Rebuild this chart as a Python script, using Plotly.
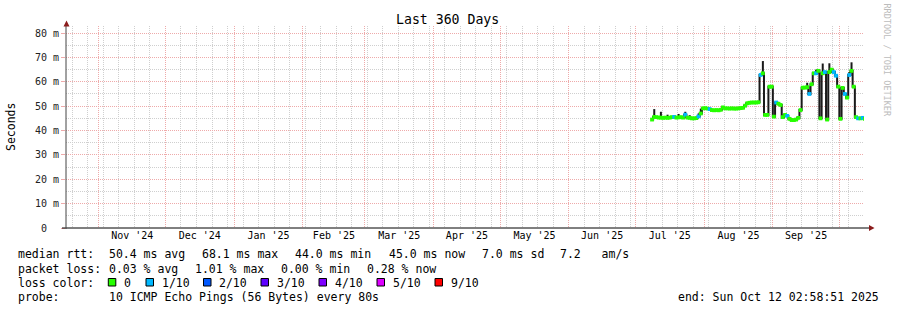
import pandas as pd
import plotly.graph_objects as go

# ---------------- data ----------------
start_date = "2025-07-08"
median_ms = [
    # Jul 8 - Jul 31
    44.5, 45.6, 45.5, 45.3, 45.3, 45.2, 45.3, 45.2, 45.3, 45.5, 45.6, 45.3,
    45.4, 45.5, 45.3, 46.5, 45.3, 45.2, 45.0, 45.0, 45.1, 45.8, 47.0, 49.1,
    # Aug 1 - Aug 31
    49.2, 49.0, 48.8, 48.4, 48.3, 48.4, 48.3, 48.5, 49.5, 49.1, 49.1, 49.0,
    49.1, 49.0, 49.0, 49.1, 49.2, 49.3, 50.2, 51.2, 51.4, 51.5, 51.5, 51.5,
    51.6, 62.8, 63.5, 46.4, 46.4, 58.0, 58.0,
    # Sep 1 - Sep 30
    45.7, 51.5, 51.0, 50.5, 45.5, 46.4, 46.0, 44.8, 44.3, 44.3, 44.5, 45.2,
    48.4, 57.6, 57.6, 57.8, 55.0, 59.0, 63.5, 63.5, 64.5, 45.0, 63.5, 64.0,
    44.5, 64.0, 65.0, 64.0, 62.5, 58.0,
    # Oct 1 - Oct 12
    44.8, 57.5, 55.0, 53.5, 62.8, 64.5, 58.0, 45.5, 45.0, 45.0, 45.2, 44.8,
]
smoke_hi_ms = [
    44.9, 48.8, 46.0, 45.7, 47.7, 45.6, 45.8, 46.5, 45.7, 45.9, 46.2, 45.7,
    46.8, 46.5, 45.7, 47.7, 45.7, 46.3, 45.4, 45.4, 45.5, 47.0, 49.0, 49.5,
    49.6, 49.4, 49.2, 48.8, 48.7, 48.8, 48.7, 48.9, 49.9, 49.5, 49.5, 49.4,
    49.5, 49.4, 49.4, 49.5, 49.6, 49.7, 50.6, 51.6, 51.8, 51.9, 51.9, 51.9,
    52.0, 63.2, 68.5, 46.8, 46.8, 58.5, 58.5,
    46.1, 52.0, 51.4, 51.0, 45.9, 46.8, 46.4, 45.2, 44.7, 44.7, 44.9, 45.6,
    48.8, 58.0, 58.0, 59.6, 55.5, 59.5, 64.0, 65.0, 65.0, 45.4, 67.5, 64.5,
    44.9, 67.6, 66.0, 65.0, 63.0, 58.5,
    45.2, 58.0, 56.0, 54.0, 64.0, 68.0, 58.5, 45.9, 45.4, 45.4, 45.6, 45.2,
]
loss_idx = [
    0, 0, 0, 0, 0, 0, 0, 0, 0, 0, 1, 0, 0, 0, 0, 1, 0, 0, 0, 0, 0, 1, 0, 0,
    0, 0, 1, 0, 0, 0, 0, 0, 0, 0, 0, 0, 0, 0, 0, 0, 0, 0, 0, 0, 0, 0, 0, 0,
    0, 1, 0, 0, 0, 0, 0,
    0, 1, 0, 0, 0, 0, 1, 0, 0, 0, 0, 0, 0, 0, 0, 0, 1, 0, 0, 1, 0, 0, 0, 1,
    0, 0, 0, 1, 1, 0,
    0, 0, 1, 0, 1, 0, 0, 0, 1, 0, 1, 0,
]
loss_colors = ["#26ff00", "#00b8ff", "#0059ff", "#5e00ff", "#7e00ff", "#dd00ff", "#ff0000"]
loss_labels = ["0", "1/10", "2/10", "3/10", "4/10", "5/10", "9/10"]

y_tick_vals = [0, 10, 20, 30, 40, 50, 60, 70, 80]
y_tick_text = ["0  ", "10 m", "20 m", "30 m", "40 m", "50 m", "60 m", "70 m", "80 m"]

range_start = "2024-10-17 02:58:51"
range_end = "2025-10-12 02:58:51"

title_text = "Last 360 Days"
rtt_items = ["median rtt:", "50.4 ms avg", "68.1 ms max", "44.0 ms min", "45.0 ms now", "7.0 ms sd", "7.2   am/s"]
loss_items = ["packet loss:", "0.03 % avg", "1.01 % max", "0.00 % min", "0.28 % now"]
probe_items = ["probe:", "10 ICMP Echo Pings (56 Bytes) every 80s"]
end_text = "end: Sun Oct 12 02:58:51 2025"
watermark = "RRDTOOL / TOBI OETIKER"

dates = pd.date_range(start_date, periods=len(median_ms), freq="D")
centers = dates + pd.Timedelta(hours=12)

# ---------------- layout geometry (pixels) ----------------
W, H = 897, 310
L, R, T, B = 66, 33, 26, 82
PW = W - L - R
PH = H - T - B
FONT = "DejaVu Sans Mono"


def px(x):
    return (x - L) / PW


def py(y):
    return (H - B - y) / PH


def nb(s):
    return s.replace(" ", "\u00a0")


fig = go.Figure()

# smoke: dark steps connecting the daily medians
fig.add_trace(go.Scatter(x=centers, y=median_ms, mode="lines",
                         line=dict(color="#1a1a1a", width=2, shape="hvh"),
                         hoverinfo="skip", showlegend=False))
# smoke spikes up to the daily upper value
sx, sy = [], []
for c, m, h in zip(centers, median_ms, smoke_hi_ms):
    if h - m > 1.0:
        sx += [c, c, None]
        sy += [m, h, None]
fig.add_trace(go.Scatter(x=sx, y=sy, mode="lines",
                         line=dict(color="#1a1a1a", width=2),
                         hoverinfo="skip", showlegend=False))
# median coloured by loss
fig.add_trace(go.Scatter(x=centers, y=median_ms, mode="markers",
                         marker=dict(symbol="square", size=3.8,
                                     color=[loss_colors[i] for i in loss_idx],
                                     line=dict(width=0)),
                         hoverinfo="skip", showlegend=False))

grid_major = "#eeaaaa"
grid_minor = "#cfcfcf"

fig.update_xaxes(
    type="date", range=[range_start, range_end],
    dtick="M1", tick0="2024-11-01", ticklabelmode="period",
    tickformat="%b '%y",
    showgrid=True, gridcolor=grid_major, griddash="1px,1px", gridwidth=1,
    ticks="", ticklen=0,
    tickfont=dict(family=FONT, size=10, color="#000"),
    minor=dict(dtick=7 * 86400000, tick0="2024-10-20", showgrid=True,
               gridcolor=grid_minor, griddash="1px,1px", gridwidth=1, ticks=""),
    showline=False, zeroline=False, fixedrange=True, automargin=False,
)
fig.update_yaxes(
    range=[0, 82.9], tickmode="array", tickvals=y_tick_vals,
    showticklabels=False,
    showgrid=True, gridcolor=grid_major, griddash="1px,1px", gridwidth=1,
    ticks="outside", ticklen=4, tickcolor=grid_major,
    minor=dict(dtick=5, showgrid=True, gridcolor=grid_minor, griddash="1px,1px",
               gridwidth=1, ticks=""),
    showline=False, zeroline=False, fixedrange=True, automargin=False,
)

shapes = []
# axes lines
shapes.append(dict(type="line", xref="paper", yref="paper", x0=px(62), x1=px(869),
                   y0=0, y1=0, line=dict(color="#000", width=1), layer="above"))
shapes.append(dict(type="line", xref="paper", yref="paper", x0=0, x1=0,
                   y0=py(229), y1=py(25), line=dict(color="#444", width=1), layer="above"))
# arrows
arrow_col = "#8b1c1c"
shapes.append(dict(type="path", xref="paper", yref="paper",
                   path=f"M {px(63.5)} {py(26.5)} L {px(69.5)} {py(26.5)} L {px(66.5)} {py(20.5)} Z",
                   fillcolor=arrow_col, line=dict(width=0), layer="above"))
shapes.append(dict(type="path", xref="paper", yref="paper",
                   path=f"M {px(869)} {py(225)} L {px(869)} {py(231)} L {px(874.5)} {py(228)} Z",
                   fillcolor=arrow_col, line=dict(width=0), layer="above"))

annotations = []
# y tick labels placed on the y scale
for v, t in zip(y_tick_vals, y_tick_text):
    annotations.append(dict(text=nb(t), x=px(60.5), y=v, xref="paper", yref="y",
                            xanchor="right", yanchor="middle", showarrow=False,
                            font=dict(family=FONT, size=10, color="#222")))
annotations.append(dict(text=title_text, x=px(447.5), y=py(20), xref="paper", yref="paper",
                        xanchor="center", yanchor="middle", showarrow=False,
                        font=dict(family=FONT, size=13.2, color="#000")))
annotations.append(dict(text="Seconds", x=px(11), y=py(127), xref="paper", yref="paper",
                        xanchor="center", yanchor="middle", showarrow=False, textangle=-90,
                        font=dict(family=FONT, size=11.5, color="#000")))
annotations.append(dict(text=nb(watermark), x=px(886.5), y=py(60), xref="paper", yref="paper",
                        xanchor="center", yanchor="middle", showarrow=False, textangle=90,
                        font=dict(family=FONT, size=8.5, color="#bcbcbc")))

LEG = 11.5
line_y = [254.5, 268.5, 282.5, 296.5]
rtt_x = [16, 107, 200, 293.3, 386.7, 480, 558.3]
for t, x in zip(rtt_items, rtt_x):
    annotations.append(dict(text=nb(t), x=px(x), y=py(line_y[0]), xref="paper", yref="paper",
                            xanchor="left", yanchor="middle", showarrow=False,
                            font=dict(family=FONT, size=LEG, color="#000")))
loss_x = [16, 107.3, 193.3, 279.3, 365]
for t, x in zip(loss_items, loss_x):
    annotations.append(dict(text=nb(t), x=px(x), y=py(line_y[1]), xref="paper", yref="paper",
                            xanchor="left", yanchor="middle", showarrow=False,
                            font=dict(family=FONT, size=LEG, color="#000")))
annotations.append(dict(text=nb("loss color:"), x=px(16), y=py(line_y[2]), xref="paper", yref="paper",
                        xanchor="left", yanchor="middle", showarrow=False,
                        font=dict(family=FONT, size=LEG, color="#000")))
box_x = [108.3, 146, 203.5, 261, 319, 377, 435]
for c, lab, bx in zip(loss_colors, loss_labels, box_x):
    shapes.append(dict(type="rect", xref="paper", yref="paper",
                       x0=px(bx), x1=px(bx + 7.5), y0=py(286), y1=py(278.5),
                       fillcolor=c, line=dict(color="#000", width=1), layer="above"))
    annotations.append(dict(text=nb(lab), x=px(bx + 13.8), y=py(line_y[2]), xref="paper", yref="paper",
                            xanchor="left", yanchor="middle", showarrow=False,
                            font=dict(family=FONT, size=LEG, color="#000")))
probe_x = [16, 107.3]
for t, x in zip(probe_items, probe_x):
    annotations.append(dict(text=nb(t), x=px(x), y=py(line_y[3]), xref="paper", yref="paper",
                            xanchor="left", yanchor="middle", showarrow=False,
                            font=dict(family=FONT, size=LEG, color="#000")))
annotations.append(dict(text=nb(end_text), x=px(880.5), y=py(line_y[3]), xref="paper", yref="paper",
                        xanchor="right", yanchor="middle", showarrow=False,
                        font=dict(family=FONT, size=LEG, color="#000")))

fig.update_layout(
    width=W, height=H, autosize=False,
    margin=dict(l=L, r=R, t=T, b=B, pad=0),
    paper_bgcolor="#ffffff", plot_bgcolor="#ffffff",
    showlegend=False, hovermode=False,
    shapes=shapes, annotations=annotations,
    font=dict(family=FONT),
)

fig.write_html("out.html", config={"displayModeBar": False})
